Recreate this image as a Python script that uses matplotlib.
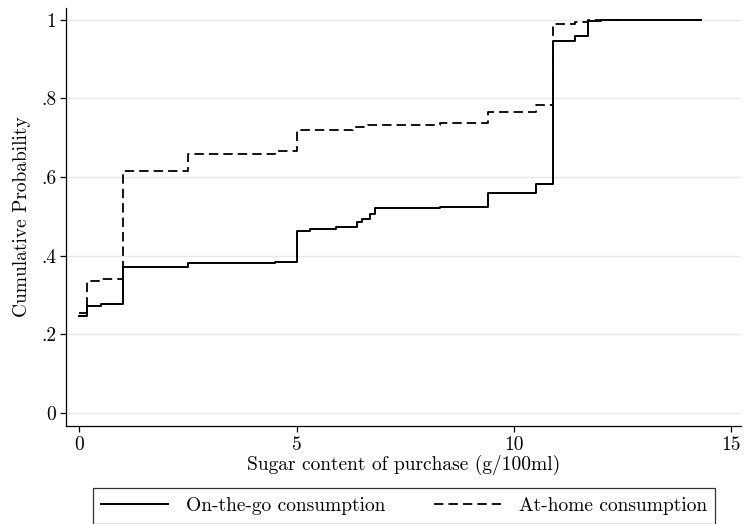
"""Empirical CDF of purchase sugar content, on-the-go vs at-home consumption."""

import matplotlib

matplotlib.use("Agg")
import matplotlib.pyplot as plt

plt.rcParams["font.family"] = "serif"
plt.rcParams["font.serif"] = ["cmr10", "DejaVu Serif"]
plt.rcParams["axes.formatter.use_mathtext"] = True

# ── step points read as (sugar g/100ml, cumulative share) ──
otg_sugar = [0, 0.19, 0.5, 1.0, 2.5, 4.5, 5.0, 5.3, 5.9, 6.4, 6.5, 6.7, 6.8,
             8.3, 9.4, 10.5, 10.9, 11.4, 11.7, 12.0, 14.3]
otg_cdf = [0.246, 0.273, 0.278, 0.372, 0.382, 0.384, 0.464, 0.469, 0.474,
           0.485, 0.494, 0.506, 0.521, 0.524, 0.560, 0.581, 0.947, 0.958,
           0.997, 1.0, 1.0]

home_sugar = [0, 0.19, 0.45, 1.0, 2.5, 4.5, 5.0, 6.3, 6.65, 8.3, 9.4, 10.5,
              10.9, 11.4, 11.7, 12.5]
home_cdf = [0.255, 0.335, 0.340, 0.615, 0.658, 0.665, 0.720, 0.726, 0.733,
            0.737, 0.766, 0.782, 0.989, 0.993, 0.999, 1.0]

y_ticks = [0, 0.2, 0.4, 0.6, 0.8, 1.0]
y_labels = ["0", ".2", ".4", ".6", ".8", "1"]
x_ticks = [0, 5, 10, 15]

fig = plt.figure(figsize=(7.44, 5.24), dpi=100)
ax = fig.add_axes([0.0887, 0.187, 0.9073, 0.798])

for y in y_ticks:
    ax.axhline(y, color="#e8e8e8", lw=1.0, zorder=0)

ax.step(otg_sugar, otg_cdf, where="post", color="black", lw=1.4,
        label="On-the-go consumption")
(home_line,) = ax.step(home_sugar, home_cdf, where="post", color="black",
                       lw=1.3, label="At-home consumption")
home_line.set_dashes((5.2, 2.8))

ax.set_xlim(-0.3, 15.22)
ax.set_ylim(-0.033, 1.03)
ax.set_xticks(x_ticks)
ax.set_xticklabels([str(t) for t in x_ticks])
ax.set_yticks(y_ticks)
ax.set_yticklabels(y_labels)
ax.tick_params(direction="out", length=4, width=0.9, labelsize=14, pad=3)

for side in ("top", "right"):
    ax.spines[side].set_visible(False)
for side in ("left", "bottom"):
    ax.spines[side].set_linewidth(0.9)

ax.set_xlabel("Sugar content of purchase (g/100ml)", fontsize=14, labelpad=1)
ax.set_ylabel("Cumulative Probability", fontsize=14, labelpad=7)

leg = fig.legend(loc="upper center", bbox_to_anchor=(0.543, 0.0687),
                 ncol=2, fontsize=14, frameon=True, fancybox=False,
                 edgecolor="black", handlelength=3.45, borderpad=0.45,
                 handletextpad=0.9, columnspacing=2.5, borderaxespad=0)
leg.get_frame().set_linewidth(0.9)

fig.savefig("out.png", dpi=100)
